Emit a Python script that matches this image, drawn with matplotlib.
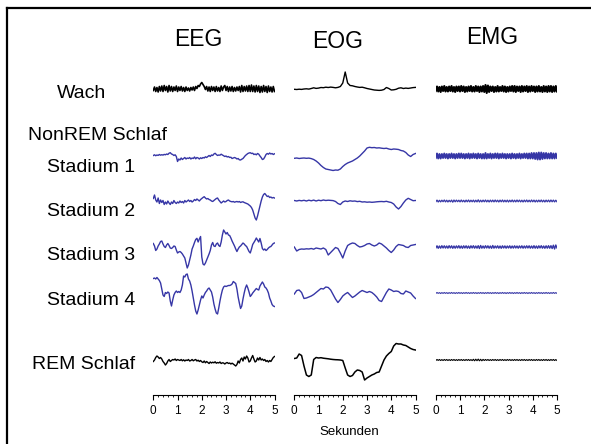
import numpy as np
import matplotlib
matplotlib.use("Agg")
import matplotlib.pyplot as plt
from matplotlib.lines import Line2D
from matplotlib.ticker import MultipleLocator

plt.rcParams['font.family'] = ['Liberation Sans', 'DejaVu Sans']

W, H = 591, 444

columns = ["EEG", "EOG", "EMG"]
rows = ["Wach", "Stadium 1", "Stadium 2", "Stadium 3", "Stadium 4", "REM Schlaf"]
row_colors = ["black", "#3636a6", "#3636a6", "#3636a6", "#3636a6", "black"]
seconds = [0, 1, 2, 3, 4, 5]

# traces, amplitude in pixel-ish units (up = positive), evenly spread over 0..5 s
eeg_wach = [-1.5, 2, -2.5, 1.5, -3, 2.5, -2, 3, -2.5, 3.5,
            -1.5, 2.5, -3, 3.5, -2, 2.5, -2.5, 2, -1.5, 3,
            -2.5, 2, -1.5, 2.5, -2, 1.5, -2.5, 2, -1.5, 1,
            -2, 1.5, -1, 2, -1.5, 2.5, 0.5, 3.5, 2.5, 5,
            6.5, 4.5, 2.5, -0.5, 2.5, -2, 2, -2.5, 2.5, -1.5,
            2, -2.5, 2.5, -2, 1.5, -2.5, 3, -1.5, 2, 3.5,
            -1.5, 2.5, -2.5, 2, -2, 2.5, -2.5, 1.5, -2, 2,
            -1.5, 2.5, -3, 3.5, -2.5, 2.5, -2, 3, -2.5, 3.5,
            -2.5, 4, -2.5, 3, -3, 3.5, -2.5, 3, -3.5, 2.5,
            -3, 3.5, -2.5, 2.5, -3.5, 3, -2.5, 2, -3, 2.5, -2.5]
eeg_st1 = [0.5, 1.2, 0.3, 1.0, 0.6, 1.5, 0.8, 1.3, 0.9, 1.6,
           1.2, 2.0, 1.5, 2.8, 3.3, 2.0, 1.5, 0.5, 1.2, -0.5,
           -5.5, -3.0, -4.0, -2.0, -3.5, -2.5, -1.5, -3.0, -2.0, -2.5,
           -1.5, -3.0, -2.0, -2.5, -1.0, -2.8, -1.5, -2.0, -3.0, -1.8,
           -2.5, -1.5, -2.0, -0.8, -1.5, -0.5, 0.5, -0.5, 1.0, 0.5,
           2.0, 2.7, 1.5, 0.5, 1.0, 0.8, 1.8, 1.0, 0.3, -0.5,
           0.0, -1.0, -0.5, -1.5, -1.2, -2.5, -2.0, -1.5, -2.0, -3.0,
           -2.5, -3.8, -4.0, -3.2, -2.5, -1.0, 0.5, 1.5, 2.5, 3.0,
           3.3, 2.5, 2.8, 1.5, 2.0, 1.2, 2.5, 1.8, 0.0, -1.5,
           -3.5, -3.0, -1.0, 1.5, 2.5, 1.8, 3.0, 2.0, 2.5, 1.5, 2.2]
eeg_st2 = [2.5, 6.0, 1.0, -1.0, 3.0, -2.5, 1.0, -1.5, 0.5, -3.5,
           -1.0, -3.0, 0.0, -2.0, -3.5, -1.0, -2.5, 0.5, -1.5, -2.5,
           -1.0, -2.0, 0.0, -1.5, -0.5, -2.0, 0.5, -1.0, 0.0, 1.0,
           -0.5, 0.5, -1.0, 0.0, 1.5, 0.5, 2.0, 1.0, 0.0, 1.5,
           2.5, 3.5, 4.3, 3.0, 2.0, 2.5, 1.5, 1.0, 0.0, -0.5,
           0.5, 1.5, 2.5, 3.0, 1.0, -0.5, -2.0, -1.0, 0.0, -1.0,
           -0.5, 0.5, 1.0, 0.0, -0.5, -0.8, -0.5, -1.2, -0.8, -0.5,
           -1.0, -0.5, -1.5, -1.0, -0.8, -1.5, -2.0, -2.5, -3.0, -4.0,
           -5.0, -6.5, -9.0, -13.0, -17.0, -19.0, -15.0, -10.0, -5.0, 0.0,
           4.0, 6.5, 7.5, 6.0, 4.5, 5.0, 3.5, 4.0, 3.0, 3.5, 3.0]
eeg_st3 = [3.5, 1.0, -3.5, -2.0, 1.0, 3.0, 5.5, 6.0, 3.0, 0.5,
           -0.5, 2.0, 3.5, 1.5, -1.0, -1.5, -0.5, 1.0, 0.5, -3.0,
           -6.0, -5.0, -4.5, -5.5, -7.0, -9.0, -11.0, -16.0, -21.0, -18.0,
           -13.0, -8.0, -2.0, 1.0, 4.5, 7.5, 8.7, 5.0, 8.0, 10.5,
           -10.0, -17.0, -18.0, -16.0, -13.0, -10.0, -7.0, -3.5, 2.0, 4.5,
           1.0, 0.5, 3.0, 4.0, 1.5, 0.5, 5.0, 12.0, 17.0, 15.0,
           13.0, 14.5, 12.0, 11.5, 9.0, 6.0, 3.5, 1.0, -2.0, -4.5,
           -2.0, 0.0, 1.0, 2.5, 4.0, 3.0, 1.5, 0.5, -2.0, -4.5,
           -6.0, -2.0, 2.5, 4.5, 6.5, 9.0, 7.0, 5.0, 8.5, 4.0,
           -1.5, -3.0, -2.0, -3.5, -2.5, -1.0, 0.0, 0.5, 2.0, 3.5, 4.0]
eeg_st4 = [14.5, 15.0, 14.0, 15.5, 14.0, 12.5, 10.0, 4.0, -2.0, -3.5,
           0.5, -0.5, 1.0, 0.0, -8.0, -13.0, -7.0, -2.0, 0.5, 2.0,
           0.5, 1.5, 0.5, 3.0, 8.0, 17.0, 16.0, 18.5, 19.0, 14.0,
           12.0, 8.0, 2.0, -5.0, -12.0, -18.0, -21.0, -17.0, -12.0, -7.0,
           -3.0, -5.0, -2.0, 0.5, 2.0, 4.0, 5.0, 3.0, 1.0, -4.0,
           -11.0, -16.0, -20.0, -21.0, -15.0, -8.0, -2.0, 3.0, 6.0, 7.0,
           6.5, 7.0, 7.5, 7.5, 8.0, 9.0, 11.5, 10.5, 9.5, 4.0,
           -4.0, -10.0, -15.5, -13.0, -6.0, 0.0, 5.0, 8.0, 5.0, 1.0,
           -3.5, -2.0, 0.0, 1.5, 3.0, 4.5, 3.5, 3.0, 7.0, 9.0,
           11.0, 9.0, 6.0, 5.0, 3.0, 0.0, -5.0, -8.0, -11.5, -13.0, -13.5]
eeg_rem = [-1.5, 0.0, 2.5, 4.0, 3.0, 1.5, 2.5, 1.0, -1.5, -3.0,
           -5.0, -3.5, -1.0, 0.5, -1.5, -0.5, 0.5, 0.0, 1.0, -0.5,
           0.5, 0.0, -0.5, 0.5, -0.8, 0.2, -1.0, 0.0, -0.5, 0.5,
           -1.0, -0.5, 0.5, -0.8, 0.0, 0.5, -1.0, -0.2, -1.5, -0.5,
           -1.8, -2.5, -1.0, -2.8, -1.5, -2.5, -3.5, -2.0, -3.0, -2.2,
           -2.8, -1.8, -3.2, -2.5, -3.0, -2.0, -3.5, -2.8, -3.0, -4.0,
           -3.0, -2.5, -3.5, -3.0, -4.0, -3.2, -4.0, -5.0, -6.0, -4.5,
           -1.0, -3.0, 0.5, 2.0, -1.0, 3.0, 1.0, 4.0, 2.0, -2.0,
           -1.0, 2.0, 4.5, 1.0, -2.0, -1.0, 2.0, 0.0, 2.5, 0.0,
           1.0, -0.5, 0.5, -1.5, -0.5, -2.0, -0.5, -1.5, 0.5, 2.5, 3.5]

eog_wach = [-0.3, -0.5, -0.2, -0.4, 0.0, 0.2, -0.1, 0.5, 1.2, 0.6,
            0.9, 1.5, 1.3, 1.8, 1.5, 1.9, 1.6, 1.2, 1.6, 2.5,
            6.0, 17.0, 6.0, 3.5, 3.2, 2.5, 2.0, 1.6, 1.8, 1.2,
            0.5, 0.0, -0.5, -1.0, -1.2, -1.4, -1.2, -0.5, 1.5, 0.5,
            -1.0, -0.8, -0.3, 0.8, 1.2, 0.5, 0.9, 0.6, 1.0, 1.4, 1.6]
eog_st1 = [-2.3, -2.0, -2.5, -2.2, -2.0, -2.3, -2.1, -2.6, -3.5, -5.0,
           -7.0, -9.5, -11.5, -13.0, -13.5, -14.0, -14.5, -14.0, -14.2, -13.0,
           -10.5, -8.5, -7.0, -6.0, -5.0, -3.5, -2.0, 0.0, 2.5, 5.0,
           8.0, 8.7, 8.3, 8.5, 8.0, 8.2, 7.8, 7.5, 7.8, 7.0,
           6.5, 7.0, 6.8, 6.5, 5.5, 5.0, 3.5, 1.0, -0.5, 1.5, 2.5]
eog_st2 = [0.5, 0.0, 0.6, 0.2, 0.7, 0.0, 0.8, 0.2, 0.9, 0.0,
           0.8, 0.3, 1.0, 0.5, 0.8, 0.6, 0.4, -0.5, -2.5, -3.5,
           -1.0, 0.0, -0.5, 0.2, -0.2, 0.0, -0.6, -0.3, -1.0, -0.8,
           -1.2, -1.0, -1.3, -1.1, -0.8, -0.6, -0.5, -0.7, -0.3, -1.0,
           -1.5, -3.0, -6.0, -8.0, -5.5, -2.0, 1.0, 2.7, 1.5, 0.3, 0.5]
eog_st3 = [0.0, -4.0, -2.5, -2.0, -2.2, -1.8, -2.0, -1.5, -2.2, -1.0,
           -1.5, -2.0, -1.0, -2.5, -8.0, -5.5, -3.0, -0.5, -1.5, -6.0,
           -11.0, -4.0, 1.5, 3.0, 4.0, 3.5, 1.5, 0.0, 0.5, 1.5,
           3.0, 3.5, 2.0, 1.0, 2.0, 4.0, 3.0, 1.0, -1.0, -3.5,
           -5.5, -3.0, 0.5, 2.5, 2.0, 1.5, 0.0, -0.5, 1.5, 2.0, 2.5]
eog_st4 = [-1.0, 2.5, 3.0, 0.5, -5.5, -5.0, -4.0, -3.0, -1.5, 0.5,
           2.5, 4.5, 4.0, 6.0, 5.5, 3.0, -1.5, -6.0, -9.5, -6.5,
           -3.0, -1.0, 0.5, -2.0, -4.5, -3.0, -1.0, 1.0, 2.5, 1.5,
           0.5, 1.5, 0.5, -1.5, -4.0, -7.5, -8.5, -4.0, 0.5, 4.0,
           3.0, 1.5, 2.0, 1.5, -0.5, -1.0, 2.0, 1.0, 0.0, -3.0, -5.5]
eog_rem = [1.5, 2.0, 6.0, 4.5, -6.0, -15.0, -16.5, -15.0, 0.5, 2.5,
           2.0, 2.3, 1.8, 1.5, 1.2, 0.8, 0.5, 0.3, 0.2, 0.0,
           -0.5, -8.0, -15.0, -16.5, -15.5, -12.0, -10.0, -10.5, -12.0, -20.0,
           -18.0, -16.5, -15.0, -14.0, -12.5, -12.0, -6.0, 0.0, 4.0, 6.5,
           8.5, 14.0, 16.5, 16.0, 16.0, 15.0, 14.5, 13.0, 11.5, 10.5, 10.0]

emg_wach = [-2, 2.5, -2.5, 2, -3, 2.5, -2, 3, -2.5, 2,
            -2.5, 2.5, -2, 3, -2.5, 2, -3, 2.5, -2, 2.5,
            -2.5, 3, -2, 2.5, -3, 2, -2.5, 2.5, -2, 3,
            -2.5, 2, -2.5, 3, -2, 2.5, -3, 2.5, -2.5, 3,
            -3, 4, -4, 3.5, -3, 2.5, -2, 2.5, -3, 2,
            -2.5, 3, -2.5, 2, -2, 3, -2.5, 2.5, -3, 2,
            -2.5, 2.5, -2, 3, -2.5, 3, -3, 2.5, -2, 2.5,
            -3, 3, -2.5, 2.5, -2, 3, -3, 2.5, -2.5, 3,
            -2, 2.5, -3, 2.5, -2.5, 3, -2.5, 2, -3, 3,
            -2.5, 2.5, -3, 3, -2.5, 3, -3, 2.5, -2.5, 3, -2.5]
emg_st1 = [-2, 2.5, -2.5, 2, -2.5, 2, -2, 2.5, -2, 2,
           -2.5, 2, -2, 2.5, -2, 2, -2.5, 2, -2, 2.5,
           -2, 2.5, -2, 2, -2.5, 2, -2, 2.5, -2.5, 2,
           -2, 2.5, -2, 2, -2.5, 2.5, -2, 2, -2.5, 2,
           -2.5, 3, -2.5, 2, -2, 2.5, -2.5, 2, -2, 2.5,
           -2, 2.5, -2.5, 2, -2, 2.5, -2, 2, -2.5, 2,
           -2, 2, -2.5, 2.5, -2, 2, -2.5, 2, -2, 2.5,
           -2.5, 2, -2, 2.5, -2, 2.5, -2.5, 2.5, -2.5, 3,
           -2.5, 3, -3, 3, -3.5, 3.5, -3.5, 3.5, -3, 3,
           -2.5, 3, -2.5, 2.5, -2.5, 3, -2.5, 2.5, -2.5, 2.5, -2]
emg_st2 = [-0.8, 0.9, -1.0, 0.7, -0.9, 0.8, -0.7, 1.0, -0.9, 0.8,
           -1.0, 0.7, -0.8, 0.9, -1.2, 1.0, -0.8, 0.9, -0.7, 0.8,
           -0.9, 1.0, -0.8, 0.7, -1.0, 0.9, -0.8, 1.0, -0.9, 0.8,
           -0.8, 0.9, -1.0, 0.8, -0.9, 1.2, -1.0, 0.8, -0.9, 0.9,
           -0.8, 1.0, -0.9, 0.8, -1.0, 0.9, -0.8, 0.9, -0.9, 1.0,
           -0.8, 0.8, -1.0, 0.9, -0.8, 1.0, -0.9, 0.8, -0.9, 0.9,
           -1.0, 0.8, -0.8, 1.0, -0.9, 0.8, -0.9, 1.0, -0.8, 0.9,
           -0.9, 0.8, -1.0, 0.9, -0.8, 1.0, -0.9, 0.8, -0.9, 1.0,
           -0.8, 0.9, -1.0, 0.8, -0.9, 0.9, -0.8, 1.0, -0.9, 0.8,
           -1.0, 0.9, -0.8, 0.9, -0.9, 1.0, -0.8, 0.9, -0.9, 0.8, -0.8]
emg_st3 = [-1.0, 1.2, -1.3, 1.0, -1.2, 1.3, -1.0, 1.2, -1.1, 1.0,
           -1.2, 1.3, -1.0, 1.2, -1.3, 1.0, -1.2, 1.1, -1.0, 1.3,
           -1.2, 1.0, -1.3, 1.2, -1.0, 1.2, -1.2, 1.0, -1.3, 1.2,
           -1.0, 1.3, -1.2, 1.0, -1.2, 1.3, -1.5, 1.5, -1.2, 1.0,
           -1.2, 1.3, -1.0, 1.2, -1.2, 1.0, -1.3, 1.5, -1.2, 1.0,
           -1.0, 1.2, -1.2, 1.0, -1.3, 1.2, -1.0, 1.1, -1.2, 1.0,
           -1.0, 1.2, -1.2, 1.0, -1.1, 1.2, -1.0, 1.0, -1.2, 1.1,
           -1.0, 1.2, -1.2, 1.0, -1.1, 1.2, -1.0, 1.2, -1.2, 1.0,
           -1.2, 1.3, -1.2, 1.0, -1.3, 1.2, -1.0, 1.3, -1.2, 1.0,
           -1.3, 1.2, -1.2, 1.3, -1.2, 1.3, -1.5, 1.8, -2.0, 2.0, -1.0]
emg_st4 = [-0.4, 0.5, -0.4, 0.4, -0.5, 0.4, -0.4, 0.5, -0.4, 0.4,
           -0.5, 0.4, -0.4, 0.5, -0.4, 0.4, -0.5, 0.4, -0.4, 0.5,
           -0.4, 0.4, -0.5, 0.4, -0.4, 0.5, -0.4, 0.4, -0.5, 0.4,
           -0.4, 0.5, -0.4, 0.4, -0.5, 0.4, -0.4, 0.5, -0.4, 0.4,
           -0.5, 0.4, -0.4, 0.5, -0.4, 0.4, -0.5, 0.4, -0.4, 0.5,
           -0.4, 0.4, -0.5, 0.4, -0.4, 0.5, -0.4, 0.4, -0.5, 0.4,
           -0.4, 0.5, -0.4, 0.4, -0.5, 0.4, -0.4, 0.5, -0.4, 0.4,
           -0.5, 0.4, -0.4, 0.5, -0.4, 0.4, -0.5, 0.4, -0.4, 0.5,
           -0.4, 0.4, -0.5, 0.4, -0.4, 0.5, -0.4, 0.4, -0.5, 0.4,
           -0.4, 0.5, -0.4, 0.4, -0.5, 0.4, -0.4, 0.5, -0.4, 0.4, -0.4]
emg_rem = [-0.5, 0.5, -0.4, 0.5, -0.5, 0.4, -0.5, 0.5, -0.4, 0.5,
           -0.5, 0.4, -0.5, 0.5, -0.4, 0.5, -0.5, 0.4, -0.5, 0.5,
           -0.4, 0.5, -0.5, 0.4, -0.5, 0.5, -0.4, 0.5, -0.5, 0.4,
           -0.6, 0.7, -0.8, 0.8, -0.7, 0.9, -0.8, 0.7, -0.8, 0.6,
           -0.5, 0.5, -0.4, 0.5, -0.5, 0.4, -0.5, 0.5, -0.4, 0.5,
           -0.5, 0.4, -0.5, 0.5, -0.4, 0.5, -0.5, 0.4, -0.5, 0.5,
           -0.4, 0.5, -0.5, 0.4, -0.5, 0.5, -0.4, 0.5, -0.5, 0.4,
           -0.5, 0.5, -0.4, 0.5, -0.5, 0.4, -0.5, 0.5, -0.4, 0.5,
           -0.5, 0.4, -0.5, 0.5, -0.4, 0.5, -0.5, 0.4, -0.5, 0.5,
           -0.4, 0.5, -0.5, 0.4, -0.5, 0.5, -0.4, 0.5, -0.5, 0.4, -0.5]

traces = {
    "EEG": [eeg_wach, eeg_st1, eeg_st2, eeg_st3, eeg_st4, eeg_rem],
    "EOG": [eog_wach, eog_st1, eog_st2, eog_st3, eog_st4, eog_rem],
    "EMG": [emg_wach, emg_st1, emg_st2, emg_st3, emg_st4, emg_rem],
}

# layout (pixels)
row_base = [89, 156, 201, 247, 293, 360]
col_x0 = [153.3, 294.3, 435.8]
col_w = 121.2
axis_y = 395
top_y = 50
header_pos = [(198, 45.5), (338, 48), (492, 43.5)]
label_pos = [(56.5, 97.5), (47, 172), (47, 216.5), (47, 260.5), (47, 304.5), (32.5, 369)]
widths = {"EEG": [1.2, 1.0, 1.0, 1.0, 1.0, 1.0],
          "EOG": [1.0, 1.0, 1.0, 1.0, 1.0, 1.1],
          "EMG": [1.5, 1.4, 0.9, 1.0, 0.8, 0.8]}

fig = plt.figure(figsize=(W / 100, H / 100), dpi=100)

for c, name in enumerate(columns):
    ax = fig.add_axes([col_x0[c] / W, (H - axis_y) / H, col_w / W, (axis_y - top_y) / H])
    for r in range(len(rows)):
        vals = np.asarray(traces[name][r])
        t = np.linspace(0, 5, len(vals))
        ax.plot(t, vals - row_base[r], color=row_colors[r], lw=widths[name][r])
    ax.set_xlim(0, 5)
    ax.set_ylim(-axis_y, -top_y)
    for s in ["top", "left", "right"]:
        ax.spines[s].set_visible(False)
    ax.spines["bottom"].set_linewidth(0.8)
    ax.set_yticks([])
    ax.set_xticks(seconds)
    ax.set_xticklabels([str(s) for s in seconds])
    ax.xaxis.set_minor_locator(MultipleLocator(0.2))
    ax.tick_params(axis='x', which='major', length=3.5, width=0.8, pad=4, labelsize=8.5)
    ax.tick_params(axis='x', which='minor', length=1.2, width=0.6)
    ax.patch.set_visible(False)
    hx, hy = header_pos[c]
    fig.text(hx / W, 1 - hy / H, name, ha='center', va='baseline', fontsize=16.5)

labels = ["Wach", "Stadium 1", "Stadium 2", "Stadium 3", "Stadium 4", "REM Schlaf"]
for (lx, ly), lab in zip(label_pos, labels):
    fig.text(lx / W, 1 - ly / H, lab, ha='left', va='baseline', fontsize=14)
fig.text(27.5 / W, 1 - 140 / H, "NonREM Schlaf", ha='left', va='baseline', fontsize=14)
fig.text(349 / W, 1 - 434.5 / H, "Sekunden", ha='center', va='baseline', fontsize=9.5)

# frame around the picture (top and left edges)
fig.add_artist(Line2D([7 / W, 7 / W], [0, 1 - 8 / H], transform=fig.transFigure, color='black', lw=1.6))
fig.add_artist(Line2D([7 / W, 1], [1 - 8 / H, 1 - 8 / H], transform=fig.transFigure, color='black', lw=1.6))

fig.savefig("out.png", dpi=100)
